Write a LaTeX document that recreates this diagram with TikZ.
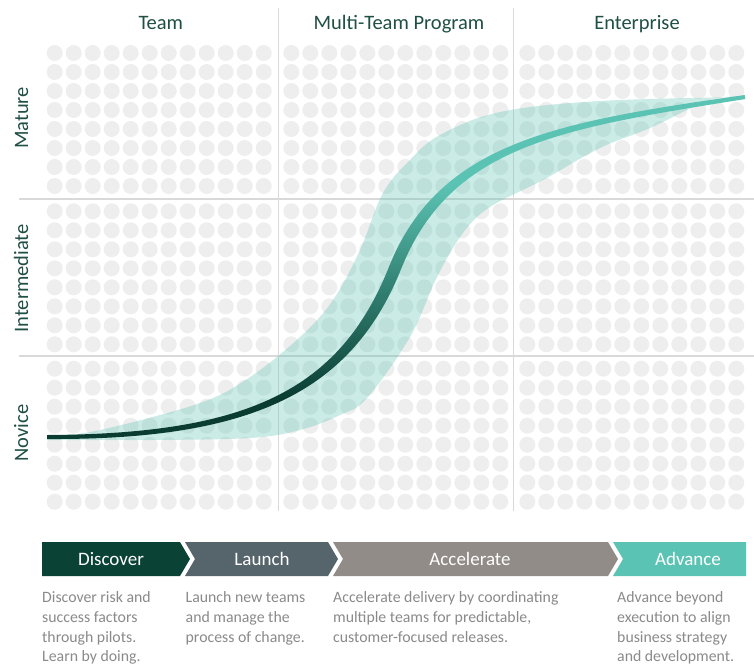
\documentclass[tikz,border=0pt]{standalone}
\usepackage{fontspec}
\setmainfont{Carlito}
\definecolor{dotc}{HTML}{EEEEEE}
\definecolor{gridc}{HTML}{D9D9D9}
\definecolor{headc}{HTML}{1F4F45}
\definecolor{cdark}{HTML}{0A3C32}
\definecolor{cmid}{HTML}{2F7C6E}
\definecolor{cteal}{HTML}{5BC3B3}
\definecolor{chdisc}{HTML}{0B4236}
\definecolor{chlaun}{HTML}{56646B}
\definecolor{chacc}{HTML}{918C88}
\definecolor{chadv}{HTML}{5BC3B4}
\definecolor{descc}{HTML}{8A8A8A}
\pgfdeclareverticalshading{curveshade}{100bp}{color(0bp)=(cdark); color(31bp)=(cdark); color(46bp)=(cmid); color(62bp)=(cteal); color(100bp)=(cteal)}
\tikzset{
  header/.style={font=\fontsize{20.5}{24}\selectfont, text=headc, anchor=base, inner sep=0pt},
  sidelabel/.style={font=\fontsize{20.5}{24}\selectfont, text=headc, anchor=base, inner sep=0pt, rotate=90},
  chevtext/.style={font=\fontsize{19}{22}\selectfont, text=white, anchor=base, inner sep=0pt},
  desc/.style={font=\fontsize{15.8}{19}\selectfont, text=descc, anchor=base west, inner sep=0pt},
  gridline/.style={draw=gridc, line width=1.5},
  band/.style={fill=cteal, fill opacity=0.32}
}
\begin{document}
\begin{tikzpicture}[x=1pt,y=-1pt]
\useasboundingbox (0,0) rectangle (754,665);
\fill[white] (0,0) rectangle (754,665);
% dot grid
\foreach \cx in {54.7,291.3,527.3}{
  \foreach \ry in {53,211.3,368.7}{
    \foreach \i in {0,...,11}{
      \foreach \j in {0,...,7}{
        \fill[dotc] (\cx+19*\i,\ry+19*\j) circle[radius=8];
      }
    }
  }
}
% grid lines
\draw[gridline] (278.3,8) -- (278.3,511);
\draw[gridline] (513.3,8) -- (513.3,511);
\draw[gridline] (19,199) -- (754,199);
\draw[gridline] (19,356) -- (754,356);
% band
\fill[band] plot[smooth, tension=0.6] coordinates {(47,437) (100,430) (200,403) (250,377) (300,337) (333,300) (360,250) (383,193) (410,160) (440,135) (500,112) (600,101) (745,97)}
  -- plot[smooth, tension=0.6] coordinates {(745,97) (710,100) (650,128) (600,148) (543,180) (490,207) (463,233) (437,277) (410,337) (367,398) (340,415) (300,430) (250,438) (150,440) (47,440)} -- cycle;
% curve
\shade[shading=curveshade] (47,439) .. controls (247,440) and (350.1,395) .. (400.6,270.2)
  .. controls (450.1,145) and (560.5,128.5) .. (745.3,99) -- (744.7,95)
  .. controls (559.5,121.5) and (439.9,141) .. (389.4,265.8)
  .. controls (339.9,391) and (247,434) .. (47,435) -- cycle;
% headers
\node[header] (hteam) at (160.8,29.3) {Team};
\node[header] (hmulti) at (399,29.3) {Multi-Team Program};
\node[header] (hent) at (637,29.3) {Enterprise};
% side labels
\node[sidelabel] (lmat) at (28,118) {Mature};
\node[sidelabel] (lint) at (28,278.3) {Intermediate};
\node[sidelabel] (lnov) at (28,433) {Novice};
% chevrons
\fill[chdisc] (42,542) -- (180,542) -- (190,559) -- (180,576) -- (42,576) -- cycle;
\fill[chlaun] (185,542) -- (328,542) -- (338,559) -- (328,576) -- (185,576) -- (195,559) -- cycle;
\fill[chacc] (333,542) -- (608,542) -- (618,559) -- (608,576) -- (333,576) -- (343,559) -- cycle;
\fill[chadv] (613,542) -- (746,542) -- (746,576) -- (613,576) -- (623,559) -- cycle;
\node[chevtext] (cdisc) at (111,565) {Discover};
\node[chevtext] (claun) at (262,565) {Launch};
\node[chevtext] (cacc) at (470,565) {Accelerate};
\node[chevtext] (cadv) at (688,565) {Advance};
% descriptions
\node[desc] (d1a) at (42,602.7) {Discover risk and};
\node[desc] (d1b) at (42,622.4) {success factors};
\node[desc] (d1c) at (42,642) {through pilots.};
\node[desc] (d1d) at (42,661.7) {Learn by doing.};
\node[desc] (d2a) at (185.5,602.7) {Launch new teams};
\node[desc] (d2b) at (185.5,622.4) {and manage the};
\node[desc] (d2c) at (185.5,642) {process of change.};
\node[desc] (d3a) at (333,602.7) {Accelerate delivery by coordinating};
\node[desc] (d3b) at (333,622.4) {multiple teams for predictable,};
\node[desc] (d3c) at (333,642) {customer-focused releases.};
\node[desc] (d4a) at (617,602.7) {Advance beyond};
\node[desc] (d4b) at (617,622.4) {execution to align};
\node[desc] (d4c) at (617,642) {business strategy};
\node[desc] (d4d) at (617,661.7) {and development.};
\end{tikzpicture}
\end{document}
